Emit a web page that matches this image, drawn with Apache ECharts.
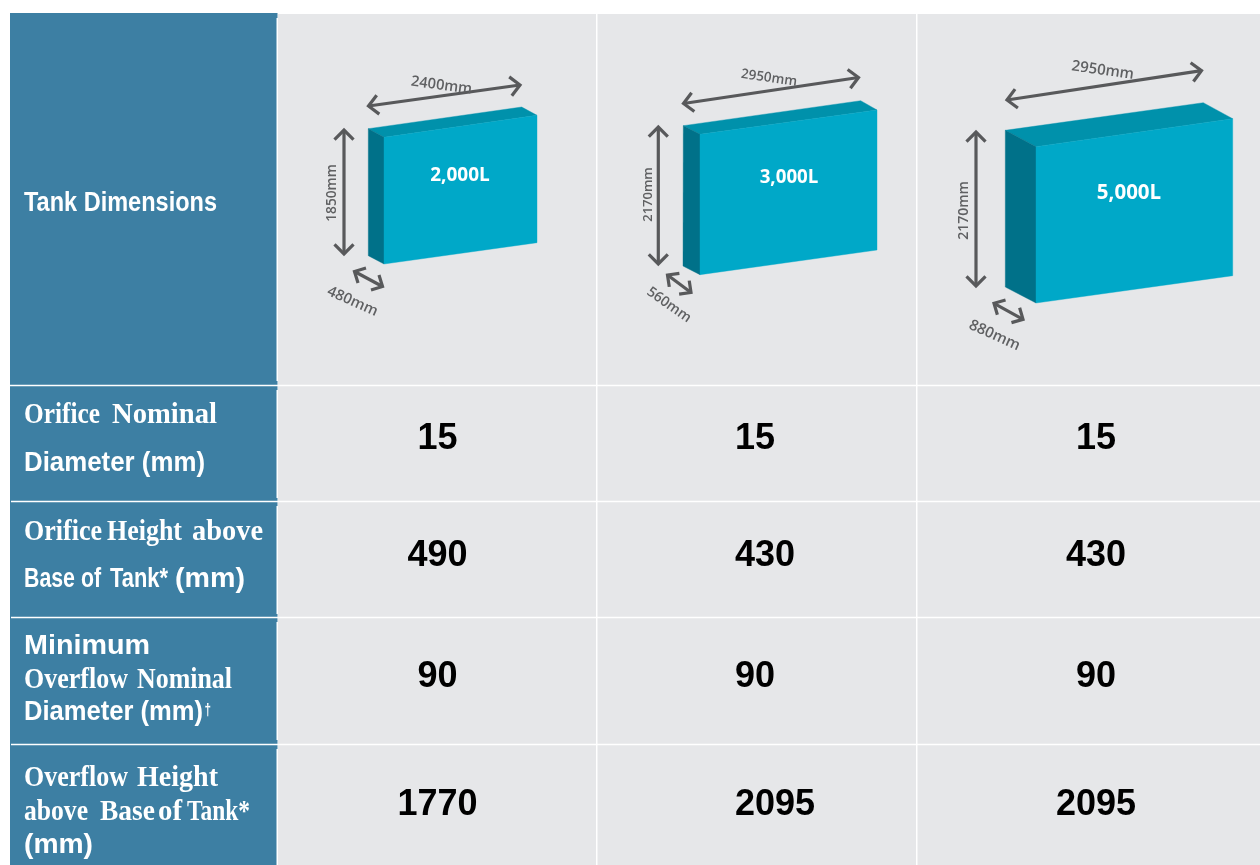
<!DOCTYPE html>
<html><head><meta charset="utf-8">
<style>html,body{margin:0;padding:0;background:#fff}#c{width:1260px;height:865px}</style>
<script src="https://cdn.jsdelivr.net/npm/echarts@6/dist/echarts.min.js"></script>
</head><body><div id="c"></div>
<script>
// ---- chart content ----
const tankNames = ['2,000L', '3,000L', '5,000L'];
const tankWidths = ['2400mm', '2950mm', '2950mm'];
const tankHeights = ['1850mm', '2170mm', '2170mm'];
const tankDepths = ['480mm', '560mm', '880mm'];
const orificeDiameter = [15, 15, 15];
const orificeHeight = [490, 430, 430];
const overflowDiameter = [90, 90, 90];
const overflowHeight = [1770, 2095, 2095];
const valueRows = [orificeDiameter, orificeHeight, overflowDiameter, overflowHeight];

// ---- layout (drawing space equals the 1260x865 page) ----
const W = 1260, H = 865;
const C = {head:'#3D7FA3', grey:'#E6E7E9', front:'#00A8C8', top:'#0091AB', side:'#007189', arrow:'#58595B', dim:'#5F6062'};
const colEdges = [278, 597.5, 917.5, 1261.5];
const rowEdges = [14, 385.5, 501.5, 617.5, 744.5, 865];
const valueX = [[437.5,'center'], [735,'left'], [1096,'center']];
const valueY = [439, 556, 677, 805];
const F = {
  sans: s => `bold ${s}px "Liberation Sans"`,
  serif: s => `bold ${s}px "Liberation Serif"`
};
// text, font, size, x from, x to, baseline
const headerWords = [
  ['Tank Dimensions','sans',28,24,217,213],
  ['Orifice','serif',29,24,100,426],['Nominal','serif',29,112,217,426],
  ['Diameter (mm)','sans',27,24,205,473],
  ['Orifice','serif',29,24,102,543],['Height','serif',29,107,182,543],['above','serif',29,192,263,543],
  ['Base of','sans',27,24,101,589],['Tank*','sans',27,110,168,589],['(mm)','sans',27,175,245,589],
  ['Minimum','sans',27,24,150,655.5],
  ['Overflow','serif',29,24,128,691],['Nominal','serif',29,137,232,691],
  ['Diameter (mm)','sans',27,24,203,722],['†','sans',16,204.5,211,716],
  ['Overflow','serif',29,24,128,789],['Height','serif',29,137,218,789],
  ['above','serif',29,24,88,823],['Base','serif',29,100,155,823],['of','serif',29,158,182,823],['Tank*','serif',29,187,250,823],
  ['(mm)','sans',27,24,93,855]
];
const tankShapes = [
  {bl:[368.3,128.7], fl:[384,137.3], br:[521.7,107], fr:[537,115.3], frb:[537,242.7], flb:[384,264], blb:[368.3,255.7]},
  {bl:[683.3,125.7], fl:[700,134.3], br:[860.7,100.7], fr:[877,110], frb:[877,250], flb:[700,274.7], blb:[683,266]},
  {bl:[1005.3,130.3], fl:[1036,146.7], br:[1203.3,102.7], fr:[1232.7,118.7], frb:[1232.7,275.7], flb:[1036,303], blb:[1005.3,287]}
];
// from, to, head length
const arrowLines = [
  [[368.5,106],[520,85],13.5],[[344,130],[344,254],13.5],[[354.5,271.5],[382.5,286.5],12],
  [[683.5,103.5],[858.5,77.5],13.5],[[658.3,127],[658.3,264],13.5],[[667.5,275],[691,292.5],12],
  [[1007,100],[1201.5,70.7],13.5],[[976,132],[976,286],13.5],[[994,303.3],[1023,319.3],12]
];
const dimSpots = [
  [[441.5,85.5,14.7,7.5],[332.5,193,13.7,-90],[352.5,301.5,14.8,24],[460,176,19,0]],
  [[769,78,13.5,8],[648,194.5,13,-90],[669,305,14,35],[789,178,18.7,0]],
  [[1102.7,70.5,15,8],[964,210.5,14,-90],[994.5,335.5,15,24],[1129,193,20.5,0]]
];

// ---- derived mark lists ----
const rects = [];
rects.push([10,13,276.5,865,C.head]);
for (let c=0;c<3;c++) rects.push([colEdges[c],14,colEdges[c+1]-1.5,865,C.grey]);
rects.push([11,13,277.5,18,C.head]);
[[381,390],[498,506],[614,622],[740,749]].forEach(r=>rects.push([11,r[0],277.5,r[1],C.head]));
rowEdges.slice(1,5).forEach((y,i)=>rects.push([i<1?10:11,y-0.7,W,y+0.7,'#fff']));

const polys = [];
tankShapes.forEach(t=>{
  polys.push([[t.bl,t.br,t.fr,t.fl],C.top]);
  polys.push([[t.bl,t.fl,t.flb,t.blb],C.side]);
  polys.push([[t.fl,t.fr,t.frb,t.flb],C.front]);
});

const labels = [];
const canvas = document.createElement('canvas').getContext('2d');
headerWords.forEach(w=>{
  canvas.font = F[w[1]](w[2]);
  const sx = (w[4]-w[3]) / canvas.measureText(w[0]).width;
  labels.push({t:w[0], x:w[3], y:w[5]-w[2]*0.35, font:canvas.font, fill:'#fff', sx, rot:0, align:'left'});
});
valueRows.forEach((row,r)=>row.forEach((v,c)=>labels.push({
  t:String(v), x:valueX[c][0], y:valueY[r], font:F.sans(36), fill:'#000', sx:1, rot:0, align:valueX[c][1]})));
tankNames.forEach((n,i)=>{
  const s = dimSpots[i];
  [tankWidths[i],tankHeights[i],tankDepths[i]].forEach((t,k)=>labels.push({
    t, x:s[k][0], y:s[k][1], font:`600 ${s[k][2]}px "Open Sans"`, fill:C.dim, sx:1, rot:-s[k][3]*Math.PI/180, align:'center'}));
  labels.push({t:n, x:s[3][0], y:s[3][1], font:`bold ${s[3][2]}px "Open Sans"`, fill:'#fff', sx:1, rot:0, align:'center'});
});

// ---- series ----
function ids(a){return a.map((_,i)=>[i,i]);}
const base = {type:'custom', coordSystem:'cartesian2d', clip:false, silent:true, animation:false, encode:{x:0,y:1}};
const pt = (api,p)=>api.coord(p);
const option = {
  animation:false,
  backgroundColor:'#fff',
  grid:{left:0,right:0,top:0,bottom:0},
  xAxis:{type:'value',min:0,max:W,show:false},
  yAxis:{type:'value',min:0,max:H,inverse:true,show:false},
  tooltip:{show:false},
  series:[
    Object.assign({},base,{z:1,data:ids(rects),renderItem(p,api){
      const r=rects[p.dataIndex], a=pt(api,[r[0],r[1]]), b=pt(api,[r[2],r[3]]);
      return {type:'rect',shape:{x:a[0],y:a[1],width:b[0]-a[0],height:b[1]-a[1]},style:{fill:r[4]}};
    }}),
    Object.assign({},base,{z:2,data:ids(polys),renderItem(p,api){
      const q=polys[p.dataIndex];
      return {type:'polygon',shape:{points:q[0].map(v=>pt(api,v))},style:{fill:q[1],stroke:q[1],lineWidth:0.4}};
    }}),
    Object.assign({},base,{z:3,data:ids(arrowLines),renderItem(p,api){
      const l=arrowLines[p.dataIndex], a=pt(api,l[0]), b=pt(api,l[1]), len=l[2];
      const ang=Math.atan2(b[1]-a[1],b[0]-a[0]);
      const head=(tip,th)=>[[tip[0]+len*Math.cos(th+2.36),tip[1]+len*Math.sin(th+2.36)],tip,[tip[0]+len*Math.cos(th-2.36),tip[1]+len*Math.sin(th-2.36)]];
      const st={stroke:C.arrow,lineWidth:3.2,fill:'none',lineJoin:'miter'};
      return {type:'group',children:[
        {type:'polyline',shape:{points:[a,b]},style:st},
        {type:'polyline',shape:{points:head(a,ang+Math.PI)},style:st},
        {type:'polyline',shape:{points:head(b,ang)},style:st}
      ]};
    }}),
    Object.assign({},base,{z:4,data:ids(labels),renderItem(p,api){
      const t=labels[p.dataIndex], a=pt(api,[t.x,t.y]);
      return {type:'text',x:a[0],y:a[1],scaleX:t.sx,rotation:t.rot,
        style:{text:t.t,x:0,y:0,font:t.font,fill:t.fill,align:t.align,verticalAlign:'middle'}};
    }})
  ]
};
echarts.init(document.getElementById('c'),null,{renderer:'canvas'}).setOption(option);
</script></body></html>
